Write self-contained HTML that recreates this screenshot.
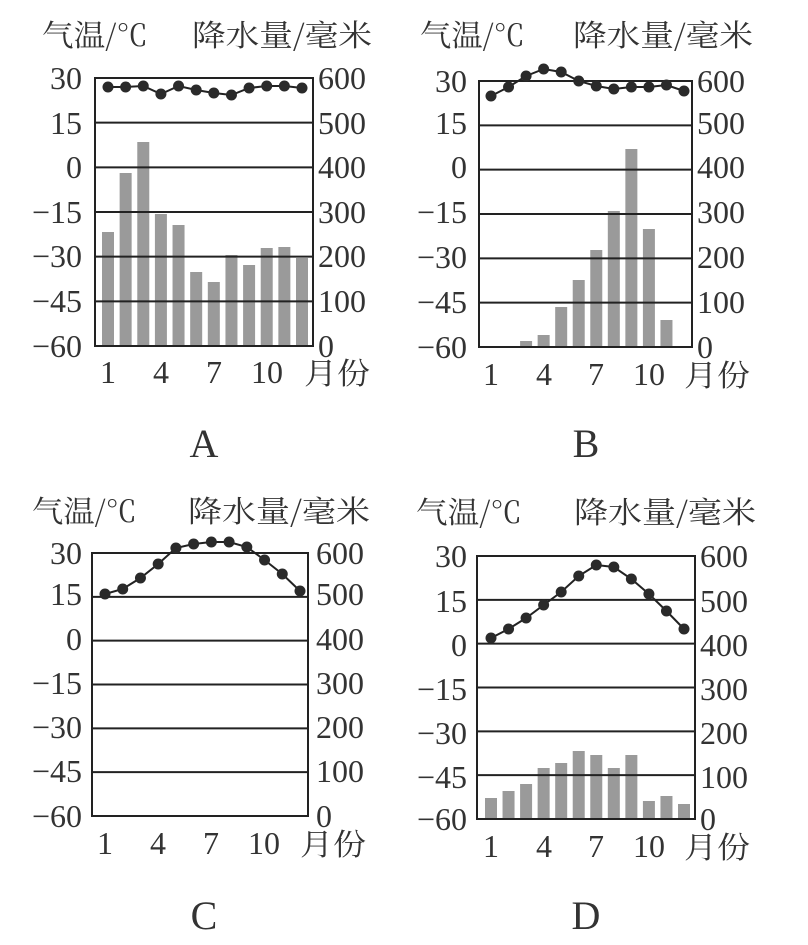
<!DOCTYPE html>
<html><head><meta charset="utf-8"><style>
html,body{margin:0;padding:0;background:#fff;}
svg{display:block;}
.n{font-family:"Liberation Serif",serif;font-size:32px;fill:#333;}
.c{font-family:"Noto Serif CJK SC","Noto Sans CJK SC",serif;font-size:30px;fill:#333;}
.L{font-family:"Liberation Serif",serif;font-size:40px;fill:#333;}
</style></head><body>
<svg id="s" width="808" height="945" viewBox="0 0 808 945" xmlns="http://www.w3.org/2000/svg">
<g id="shapes"></g>
<!-- A -->
<text class="c" x="42" y="46" textLength="106" lengthAdjust="spacingAndGlyphs">气温/℃</text>
<text class="c" x="192" y="46" textLength="180" lengthAdjust="spacingAndGlyphs">降水量/毫米</text>
<g class="n" text-anchor="end">
<text x="82" y="89">30</text><text x="82" y="134">15</text><text x="82" y="178">0</text><text x="82" y="223">−15</text><text x="82" y="267">−30</text><text x="82" y="312">−45</text><text x="82" y="357">−60</text></g>
<g class="n"><text x="318" y="89">600</text><text x="318" y="134">500</text><text x="318" y="178">400</text><text x="318" y="223">300</text><text x="318" y="267">200</text><text x="318" y="312">100</text><text x="318" y="357">0</text></g>
<g class="n" text-anchor="middle"><text x="108" y="383">1</text><text x="161" y="383">4</text><text x="214" y="383">7</text><text x="267" y="383">10</text></g>
<text class="c" x="304" y="384" textLength="66" lengthAdjust="spacingAndGlyphs">月份</text>
<text class="L" x="204" y="457" text-anchor="middle">A</text>
<!-- B -->
<text class="c" x="420" y="46" textLength="105" lengthAdjust="spacingAndGlyphs">气温/℃</text>
<text class="c" x="573" y="46" textLength="180" lengthAdjust="spacingAndGlyphs">降水量/毫米</text>
<g class="n" text-anchor="end">
<text x="467" y="92">30</text><text x="467" y="134">15</text><text x="467" y="178">0</text><text x="467" y="223">−15</text><text x="467" y="268">−30</text><text x="467" y="313">−45</text><text x="467" y="358">−60</text></g>
<g class="n"><text x="697" y="92">600</text><text x="697" y="134">500</text><text x="697" y="178">400</text><text x="697" y="223">300</text><text x="697" y="268">200</text><text x="697" y="313">100</text><text x="697" y="358">0</text></g>
<g class="n" text-anchor="middle"><text x="491" y="385">1</text><text x="544" y="385">4</text><text x="596" y="385">7</text><text x="649" y="385">10</text></g>
<text class="c" x="684" y="386" textLength="66" lengthAdjust="spacingAndGlyphs">月份</text>
<text class="L" x="586" y="457" text-anchor="middle">B</text>
<!-- C -->
<text class="c" x="32" y="522" textLength="105" lengthAdjust="spacingAndGlyphs">气温/℃</text>
<text class="c" x="188" y="522" textLength="182" lengthAdjust="spacingAndGlyphs">降水量/毫米</text>
<g class="n" text-anchor="end">
<text x="82" y="564">30</text><text x="82" y="605">15</text><text x="82" y="650">0</text><text x="82" y="694">−15</text><text x="82" y="738">−30</text><text x="82" y="782">−45</text><text x="82" y="827">−60</text></g>
<g class="n"><text x="316" y="564">600</text><text x="316" y="605">500</text><text x="316" y="650">400</text><text x="316" y="694">300</text><text x="316" y="738">200</text><text x="316" y="782">100</text><text x="316" y="827">0</text></g>
<g class="n" text-anchor="middle"><text x="105" y="854">1</text><text x="158" y="854">4</text><text x="211" y="854">7</text><text x="264" y="854">10</text></g>
<text class="c" x="300" y="855" textLength="66" lengthAdjust="spacingAndGlyphs">月份</text>
<text class="L" x="204" y="929" text-anchor="middle">C</text>
<!-- D -->
<text class="c" x="416" y="523" textLength="106" lengthAdjust="spacingAndGlyphs">气温/℃</text>
<text class="c" x="574" y="523" textLength="182" lengthAdjust="spacingAndGlyphs">降水量/毫米</text>
<g class="n" text-anchor="end">
<text x="467" y="567">30</text><text x="467" y="612">15</text><text x="467" y="656">0</text><text x="467" y="700">−15</text><text x="467" y="744">−30</text><text x="467" y="788">−45</text><text x="467" y="830">−60</text></g>
<g class="n"><text x="700" y="567">600</text><text x="700" y="612">500</text><text x="700" y="656">400</text><text x="700" y="700">300</text><text x="700" y="744">200</text><text x="700" y="788">100</text><text x="700" y="830">0</text></g>
<g class="n" text-anchor="middle"><text x="491" y="857">1</text><text x="544" y="857">4</text><text x="596" y="857">7</text><text x="649" y="857">10</text></g>
<text class="c" x="684" y="858" textLength="66" lengthAdjust="spacingAndGlyphs">月份</text>
<text class="L" x="586" y="929" text-anchor="middle">D</text>
</svg>
<script>
var charts=[
{L:95,R:313,T:78,B:346,m1:108,m12:302,
 bars:[232,173,142,214,225,272,282,255,265,248,247,258],
 t:[87,87,86,94,86,90,93,95,88,86,86,88]},
{L:479,R:692,T:81,B:347,m1:491,m12:684,
 bars:[null,null,341,335,307,280,250,211,149,229,320,null],
 t:[96,87,76,69,72,81,86,89,87,87,85,91]},
{L:92,R:308,T:553,B:816,m1:105,m12:300,
 bars:[null,null,null,815,null,null,null,null,null,815,null,null],
 t:[594,589,578,564,548,544,542,542,547,560,574,591]},
{L:477,R:695,T:556,B:819,m1:491,m12:684,
 bars:[798,791,784,768,763,751,755,768,755,801,796,804],
 t:[638,629,618,605,592,576,565,567,579,594,611,629]}];
var ns="http://www.w3.org/2000/svg",g=document.getElementById("shapes");
function el(n,a){var e=document.createElementNS(ns,n);for(var k in a)e.setAttribute(k,a[k]);g.appendChild(e);return e;}
charts.forEach(function(c){
 var sp=(c.m12-c.m1)/11,h=(c.B-c.T)/6;
 c.bars.forEach(function(b,i){if(b==null)return;var x=c.m1+i*sp;
  el("rect",{x:x-6,y:b,width:12,height:c.B-b,fill:"#9a9a9a"});});
 for(var k=1;k<6;k++){var y=c.T+k*h;el("line",{x1:c.L,x2:c.R,y1:y,y2:y,stroke:"#222","stroke-width":2});}
 el("rect",{x:c.L,y:c.T,width:c.R-c.L,height:c.B-c.T,fill:"none",stroke:"#222","stroke-width":2});
 var p=c.t.map(function(y,i){return (c.m1+i*sp)+","+y;}).join(" ");
 el("polyline",{points:p,fill:"none",stroke:"#222","stroke-width":2});
 c.t.forEach(function(y,i){el("circle",{cx:c.m1+i*sp,cy:y,r:5.5,fill:"#2a2a2a"});});
});
</script>
</body></html>
